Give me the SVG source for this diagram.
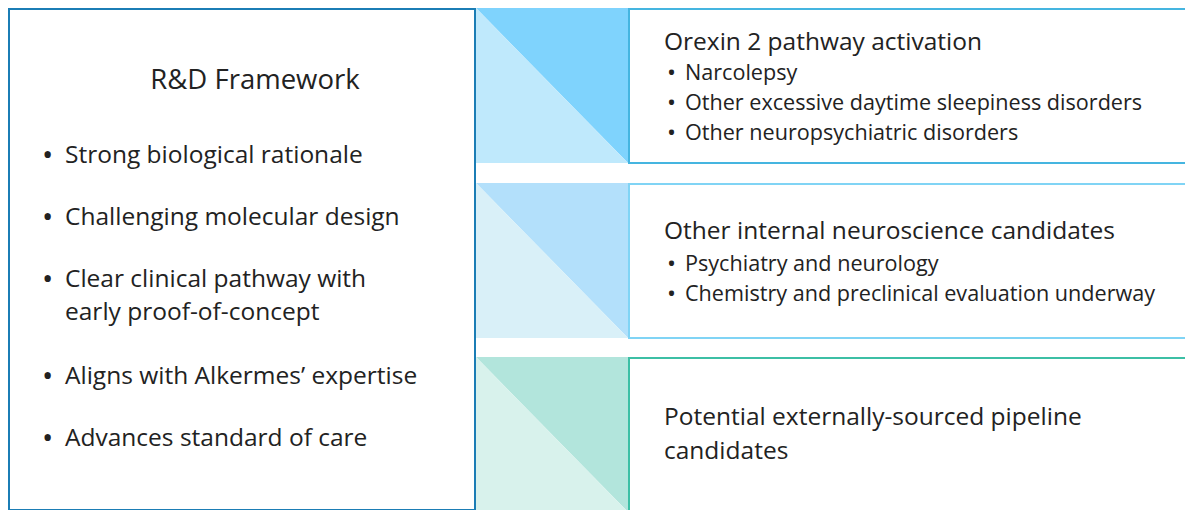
<svg xmlns="http://www.w3.org/2000/svg" width="1185" height="510" viewBox="0 0 1185 510">
  <style>
    text { font-family: "Open Sans", "Noto Sans", "Liberation Sans", sans-serif; fill: #222; }
    .title { font-size: 27.5px; }
    .item { font-size: 24.5px; }
    .dot { font-size: 30px; }
    .head { font-size: 24.5px; }
    .sub { font-size: 21.6px; }
    .sdot { font-size: 24px; }
    .frame { fill: #fff; stroke-width: 2; }
  </style>
  <rect width="1185" height="510" fill="#fff"/>

  <!-- Framework panel -->
  <g id="framework">
    <rect class="frame" x="9" y="9" width="466" height="501" stroke="#1b7db5"/>
    <text class="title" x="255" y="89" text-anchor="middle">R&amp;D Framework</text>
    <g class="dot">
      <text x="42" y="165">•</text>
      <text x="42" y="227">•</text>
      <text x="42" y="289">•</text>
      <text x="42" y="386">•</text>
      <text x="42" y="448">•</text>
    </g>
    <g class="item">
      <text x="65" y="163">Strong biological rationale</text>
      <text x="65" y="225">Challenging molecular design</text>
      <text x="65" y="287">Clear clinical pathway with</text>
      <text x="65" y="320">early proof-of-concept</text>
      <text x="65" y="384">Aligns with Alkermes’ expertise</text>
      <text x="65" y="446">Advances standard of care</text>
    </g>
  </g>

  <!-- Diagonal connectors into each area -->
  <g id="connectors">
    <polygon points="476,8 628,8 628,163" fill="#7fd3fd"/>
    <polygon points="476,8 628,163 476,163" fill="#bfe9fc"/>
    <polygon points="476,183 628,183 628,338" fill="#b3e0fb"/>
    <polygon points="476,183 628,338 476,338" fill="#d9f0f8"/>
    <polygon points="476,357 628,357 628,512" fill="#b2e5dc"/>
    <polygon points="476,357 628,512 476,512" fill="#d8f2ec"/>
  </g>

  <!-- Orexin 2 -->
  <g id="orexin">
    <rect class="frame" x="629" y="9" width="560" height="154" stroke="#45b5e0"/>
    <text class="head" x="664" y="50">Orexin 2 pathway activation</text>
    <g class="sdot">
      <text x="667" y="81">•</text>
      <text x="667" y="111">•</text>
      <text x="667" y="141">•</text>
    </g>
    <g class="sub">
      <text x="685" y="80">Narcolepsy</text>
      <text x="685" y="110">Other excessive daytime sleepiness disorders</text>
      <text x="685" y="140">Other neuropsychiatric disorders</text>
    </g>
  </g>

  <!-- Internal neuroscience -->
  <g id="internal">
    <rect class="frame" x="629" y="184" width="560" height="154" stroke="#80d4f5"/>
    <text class="head" x="664" y="239">Other internal neuroscience candidates</text>
    <g class="sdot">
      <text x="667" y="272">•</text>
      <text x="667" y="302">•</text>
    </g>
    <g class="sub">
      <text x="685" y="271">Psychiatry and neurology</text>
      <text x="685" y="301">Chemistry and preclinical evaluation underway</text>
    </g>
  </g>

  <!-- External pipeline -->
  <g id="external">
    <rect class="frame" x="629" y="358" width="560" height="160" stroke="#3cbfa5"/>
    <text class="head" x="664" y="425">Potential externally-sourced pipeline</text>
    <text class="head" x="664" y="459">candidates</text>
  </g>
</svg>
